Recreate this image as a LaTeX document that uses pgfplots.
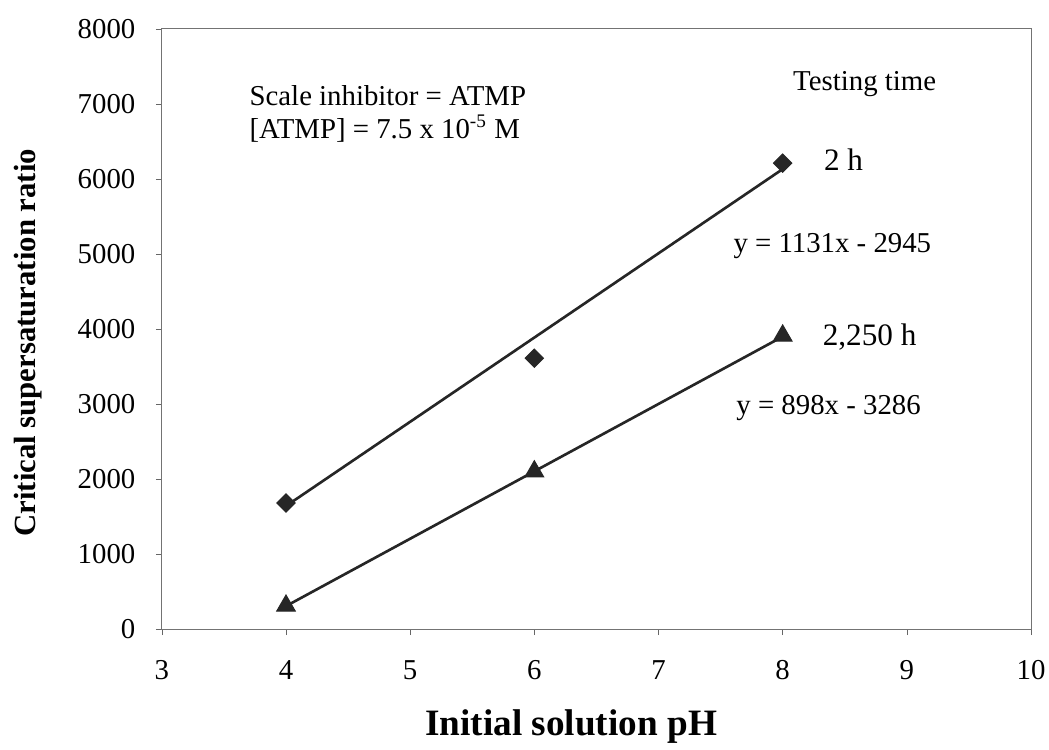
\documentclass[border=0pt]{standalone}
\usepackage{pgfplots}
\pgfplotsset{compat=1.18}
\usepackage{fontspec}
\setmainfont{Liberation Serif}
\begin{document}
\begin{tikzpicture}
\begin{axis}[
  name=main,
  scale only axis,
  width=362pt, height=250pt,
  xmin=3, xmax=10, ymin=0, ymax=8000,
  xtick={3,4,...,10},
  ytick={0,1000,...,8000},
  tick pos=left,
  tick align=outside,
  major tick length=2.5pt,
  axis line style={black!55},
  tick style={black!60},
  /pgf/number format/assume math mode=true,
  scaled y ticks=false,
  yticklabel style={/pgf/number format/1000 sep={}, font=\fontsize{12}{14}\selectfont, xshift=-5pt},
  xticklabel style={font=\fontsize{12}{14}\selectfont, yshift=-7pt},
  xlabel={\textbf{Initial solution pH}},
  ylabel={\textbf{Critical supersaturation ratio}},
  xlabel style={font=\fontsize{15.5}{17}\selectfont, at={(axis description cs:0.471,-0.162)}, anchor=center},
  ylabel style={font=\fontsize{12.8}{15}\selectfont, at={(axis description cs:-0.154,0.477)}, anchor=center},
  clip=false,
]
% 2 h data
\addplot[only marks, mark=square*, mark size=2.7pt, black!85, mark options={fill=black!85, rotate=45}]
  coordinates {(4,1680) (6,3610) (8,6210)};
% 2 h trend line
\addplot[black!85, line width=1.1pt] coordinates {(4,1640) (8,6130)};
% 2,250 h data
\addplot[only marks, mark=triangle*, mark size=4.5pt, black!85, mark options={fill=black!85}]
  coordinates {(4,310) (6,2100) (8,3910)};
% 2,250 h trend line
\addplot[black!85, line width=1.1pt] coordinates {(4,306) (8,3898)};

\node[font=\fontsize{12}{13.7}\selectfont, align=left] at (axis cs:4.82,6870)
  {Scale inhibitor = ATMP\\ {[ATMP]} = 7.5 x 10\textsuperscript{-5} M};
\node[font=\fontsize{12}{14}\selectfont] at (axis cs:8.66,7260) {Testing time};
\node[font=\fontsize{13}{15}\selectfont] at (axis cs:8.49,6250) {2 h};
\node[font=\fontsize{12}{14}\selectfont] at (axis cs:8.40,5110) {y = 1131x - 2945};
\node[font=\fontsize{13}{15}\selectfont] at (axis cs:8.70,3890) {2,250 h};
\node[font=\fontsize{12}{14}\selectfont] at (axis cs:8.37,2940) {y = 898x - 3286};
\end{axis}
\pgfresetboundingbox
\path[use as bounding box] ([shift={(-67.4pt,-50pt)}]main.south west) rectangle ([shift={(7.5pt,12pt)}]main.north east);
\end{tikzpicture}
\end{document}
